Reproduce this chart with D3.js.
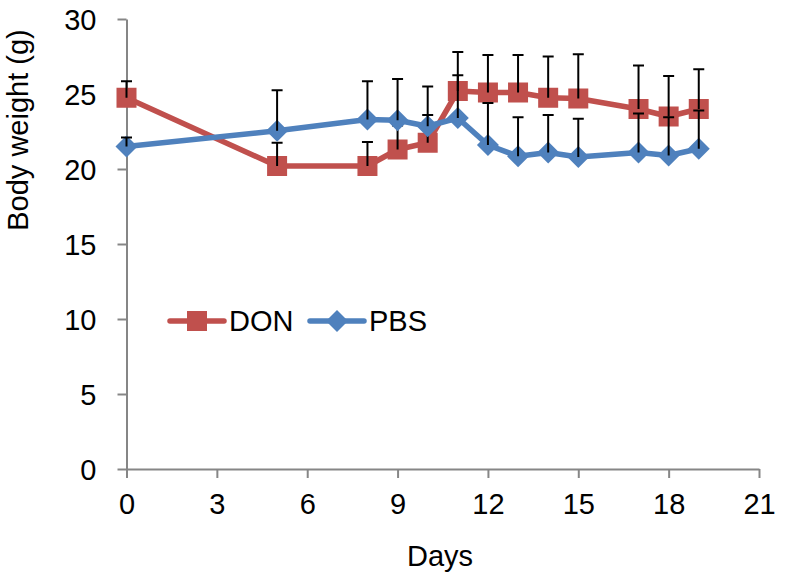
<!DOCTYPE html>
<html>
<head>
<meta charset="utf-8">
<script src="https://cdn.jsdelivr.net/npm/d3@7"></script>
<style>
    body { margin: 0; background: #fff; }
    #chart-area { width: 796px; height: 578px; }
    .axis text { font-family: "Liberation Sans", Arial, sans-serif; font-size: 29px; fill: #000; }
</style>
</head>
<body>
<div id="chart-area"></div>
<script>

// days of measurement
const days = [0, 5, 8, 9, 10, 11, 12, 13, 14, 15, 17, 18, 19];

// DON group: mean body weight and error
const donMean = [24.75, 20.2, 20.2, 21.3, 21.75, 25.2, 25.1, 25.1, 24.75, 24.7, 24.0, 23.5, 24.0];
const donErr  = [1.1, 1.55, 1.6, 1.6, 1.85, 2.6, 2.5, 2.5, 2.75, 2.95, 2.9, 2.7, 2.65];

// PBS group
const pbsMean = [21.5, 22.55, 23.3, 23.25, 22.85, 23.4, 21.6, 20.85, 21.1, 20.8, 21.1, 20.9, 21.35];
const pbsErr  = [0.6, 2.7, 2.55, 2.75, 2.65, 2.85, 2.8, 2.6, 2.5, 2.55, 2.6, 2.55, 2.55];

const xTicks = [0, 3, 6, 9, 12, 15, 18, 21];
const yTicks = [0, 5, 10, 15, 20, 25, 30];

class LineVis {

    constructor(parentElement) {
        this.parentElement = parentElement;
        this.series = [
            { name: "DON", color: "#C0504D", shape: "square",
              values: days.map((d, i) => ({ day: d, mean: donMean[i], err: donErr[i] })) },
            { name: "PBS", color: "#4F81BD", shape: "diamond",
              values: days.map((d, i) => ({ day: d, mean: pbsMean[i], err: pbsErr[i] })) }
        ];
        this.initVis();
    }

    drawMarker(sel, shape, color) {
        if (shape === "square") {
            sel.append("rect")
                .attr("x", -10).attr("y", -10)
                .attr("width", 20).attr("height", 20)
                .attr("fill", color);
        } else {
            sel.append("path")
                .attr("d", "M0,-11L11,0L0,11L-11,0Z")
                .attr("fill", color);
        }
    }

    initVis() {
        let vis = this;

        vis.width = 796;
        vis.height = 578;

        vis.svg = d3.select("#" + vis.parentElement).append("svg")
            .attr("width", vis.width)
            .attr("height", vis.height);

        vis.x = d3.scaleLinear().domain([0, 21]).range([126.5, 759]);
        vis.y = d3.scaleLinear().domain([0, 30]).range([469, 19]);

        // axes
        vis.xAxis = d3.axisBottom(vis.x).tickValues(xTicks).tickSize(9).tickPadding(15).tickSizeOuter(0);
        vis.yAxis = d3.axisLeft(vis.y).tickValues(yTicks).tickSize(9).tickPadding(21).tickSizeOuter(0);

        let gx = vis.svg.append("g")
            .attr("class", "x-axis axis")
            .attr("transform", `translate(0, ${vis.y(0)})`)
            .call(vis.xAxis);
        let gy = vis.svg.append("g")
            .attr("class", "y-axis axis")
            .attr("transform", `translate(${vis.x(0)}, 0)`)
            .call(vis.yAxis);

        [gx, gy].forEach(g => {
            g.select(".domain").attr("stroke", "#868686").attr("stroke-width", 2);
            g.selectAll(".tick line").attr("stroke", "#868686").attr("stroke-width", 2);
        });
        gx.selectAll("text").attr("dy", "0.71em");
        gy.selectAll("text").attr("dy", "0.35em");

        // axis titles
        vis.svg.append("text")
            .attr("x", 440).attr("y", 566)
            .attr("text-anchor", "middle")
            .style("font-family", "Liberation Sans, Arial, sans-serif")
            .style("font-size", "29px")
            .text("Days");

        vis.svg.append("text")
            .attr("transform", "translate(28, 130) rotate(-90)")
            .attr("text-anchor", "middle")
            .style("font-family", "Liberation Sans, Arial, sans-serif")
            .style("font-size", "29px")
            .text("Body weight (g)");

        vis.updateVis();
    }

    updateVis() {
        let vis = this;

        let line = d3.line()
            .x(d => vis.x(d.day))
            .y(d => vis.y(d.mean));

        vis.series.forEach(s => {
            let g = vis.svg.append("g").attr("class", "series-" + s.name);

            g.append("path")
                .datum(s.values)
                .attr("d", line)
                .attr("fill", "none")
                .attr("stroke", s.color)
                .attr("stroke-width", 5.5)
                .attr("stroke-linejoin", "round");

            g.selectAll(".marker")
                .data(s.values)
                .enter()
                .append("g")
                .attr("class", "marker")
                .attr("transform", d => `translate(${vis.x(d.day)}, ${vis.y(d.mean)})`)
                .each(function () { vis.drawMarker(d3.select(this), s.shape, s.color); });

            // error bars (upper only)
            let eb = g.selectAll(".err")
                .data(s.values)
                .enter()
                .append("g")
                .attr("class", "err")
                .attr("stroke", "#000")
                .attr("stroke-width", 2);
            eb.append("line")
                .attr("x1", d => vis.x(d.day)).attr("x2", d => vis.x(d.day))
                .attr("y1", d => vis.y(d.mean)).attr("y2", d => vis.y(d.mean + d.err));
            eb.append("line")
                .attr("x1", d => vis.x(d.day) - 5.5).attr("x2", d => vis.x(d.day) + 5.5)
                .attr("y1", d => vis.y(d.mean + d.err)).attr("y2", d => vis.y(d.mean + d.err));
        });

        // legend
        let legend = vis.svg.append("g").attr("class", "legend");
        let legendX = [170, 310];
        vis.series.forEach((s, i) => {
            let lg = legend.append("g").attr("transform", `translate(${legendX[i]}, 321)`);
            lg.append("line")
                .attr("x1", 0).attr("x2", 54)
                .attr("stroke", s.color)
                .attr("stroke-width", 5.5)
                .attr("stroke-linecap", "round");
            vis.drawMarker(lg.append("g").attr("transform", "translate(27, 0)"), s.shape, s.color);
            lg.append("text")
                .attr("x", 59).attr("dy", "0.36em")
                .style("font-family", "Liberation Sans, Arial, sans-serif")
                .style("font-size", "29px")
                .text(s.name);
        });
    }
}

new LineVis("chart-area");
</script>
</body>
</html>
